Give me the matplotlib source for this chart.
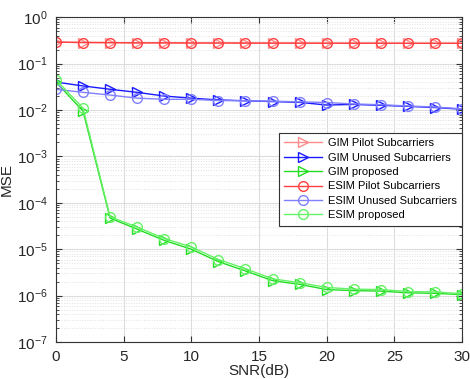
import matplotlib.pyplot as plt
import numpy as np
from matplotlib.ticker import LogLocator, NullFormatter, NullLocator

plt.rcParams['font.family'] = ['Liberation Sans', 'DejaVu Sans']

snr = [0.0, 2.0, 4.0, 6.0, 8.0, 10.0, 12.0, 14.0, 16.0, 18.0, 20.0, 22.0, 24.0, 26.0, 28.0, 30.0]

gim_pilot = [0.29, 0.285, 0.283, 0.28, 0.28, 0.278, 0.278, 0.277, 0.276, 0.276,
             0.275, 0.275, 0.275, 0.274, 0.274, 0.274]
gim_unused = [0.040, 0.033, 0.028, 0.024, 0.020, 0.018, 0.0165, 0.0158, 0.0152, 0.0146,
              0.0128, 0.0132, 0.0126, 0.0120, 0.0113, 0.0104]
gim_prop = [0.040, 0.0095, 4.7e-5, 2.7e-5, 1.55e-5, 1.0e-5, 5.4e-6, 3.4e-6, 2.1e-6, 1.75e-6,
            1.35e-6, 1.28e-6, 1.25e-6, 1.15e-6, 1.12e-6, 1.05e-6]
esim_pilot = [0.29, 0.285, 0.283, 0.28, 0.28, 0.278, 0.278, 0.277, 0.276, 0.276,
              0.275, 0.275, 0.275, 0.274, 0.274, 0.274]
esim_unused = [0.028, 0.024, 0.021, 0.018, 0.017, 0.017, 0.016, 0.0158, 0.0155, 0.0150,
               0.0145, 0.0135, 0.0130, 0.0122, 0.0116, 0.0106]
esim_prop = [0.045, 0.011, 5.0e-5, 3.0e-5, 1.7e-5, 1.12e-5, 6.0e-6, 3.8e-6, 2.3e-6, 1.9e-6,
             1.5e-6, 1.38e-6, 1.35e-6, 1.22e-6, 1.2e-6, 1.1e-6]
x_ticks = [0, 5, 10, 15, 20, 25, 30]
y_ticks = [1e-7, 1e-6, 1e-5, 1e-4, 1e-3, 1e-2, 1e-1, 1e0]

fig = plt.figure(figsize=(4.7, 3.79), dpi=100)
ax = fig.add_axes([0.119, 0.0976, 0.864, 0.857])
ax.set_yscale('log')

series = [
    (gim_pilot, '#ff8c8c', '>', 'GIM Pilot Subcarriers'),
    (gim_unused, '#1a1aff', '>', 'GIM Unused Subcarriers'),
    (gim_prop, '#22dd22', '>', 'GIM proposed'),
    (esim_pilot, '#ff4040', 'o', 'ESIM Pilot Subcarriers'),
    (esim_unused, '#8080ff', 'o', 'ESIM Unused Subcarriers'),
    (esim_prop, '#66f266', 'o', 'ESIM proposed'),
]
for y, c, m, lab in series:
    ax.plot(snr, y, color=c, marker=m, markerfacecolor='none', markeredgecolor=c,
            markersize=7, linewidth=1.0, label=lab)

ax.set_xlim(0, 30)
ax.set_ylim(1e-7, 1)
ax.set_xticks(x_ticks)
ax.set_yticks(y_ticks)
ax.xaxis.set_minor_locator(NullLocator())
ax.yaxis.set_minor_locator(LogLocator(base=10, subs=np.arange(2, 10), numticks=10))
ax.yaxis.set_minor_formatter(NullFormatter())

# MATLAB-like grid: solid major lines, dotted minor lines on the log axis
ax.grid(True, which='major', color='#dcdcdc', linewidth=0.8)
ax.grid(True, which='minor', axis='y', color='#e0e0e0', linestyle=':', linewidth=0.7)
ax.tick_params(which='both', direction='in', top=True, right=True, labelsize=11,
               colors='#333333', labelcolor='#262626')
ax.tick_params(axis='x', which='major', pad=6)
ax.tick_params(axis='y', which='major', pad=6)
ax.tick_params(which='major', length=4)
ax.tick_params(which='minor', length=2)
for s in ax.spines.values():
    s.set_color('#333333')
    s.set_linewidth(0.8)

ax.set_xlabel('SNR(dB)', fontsize=11, labelpad=0, color='#262626')
ax.set_ylabel('MSE', fontsize=11, labelpad=2, color='#262626')

leg = ax.legend(loc='upper right', bbox_to_anchor=(1.0, 0.645), fontsize=8.0,
                frameon=True, fancybox=False, edgecolor='#333333', framealpha=1,
                borderpad=0.5, labelspacing=0.4, handlelength=3.4, handletextpad=0.5,
                borderaxespad=0)
leg.get_frame().set_linewidth(0.8)

fig.savefig('out.png', dpi=100)
